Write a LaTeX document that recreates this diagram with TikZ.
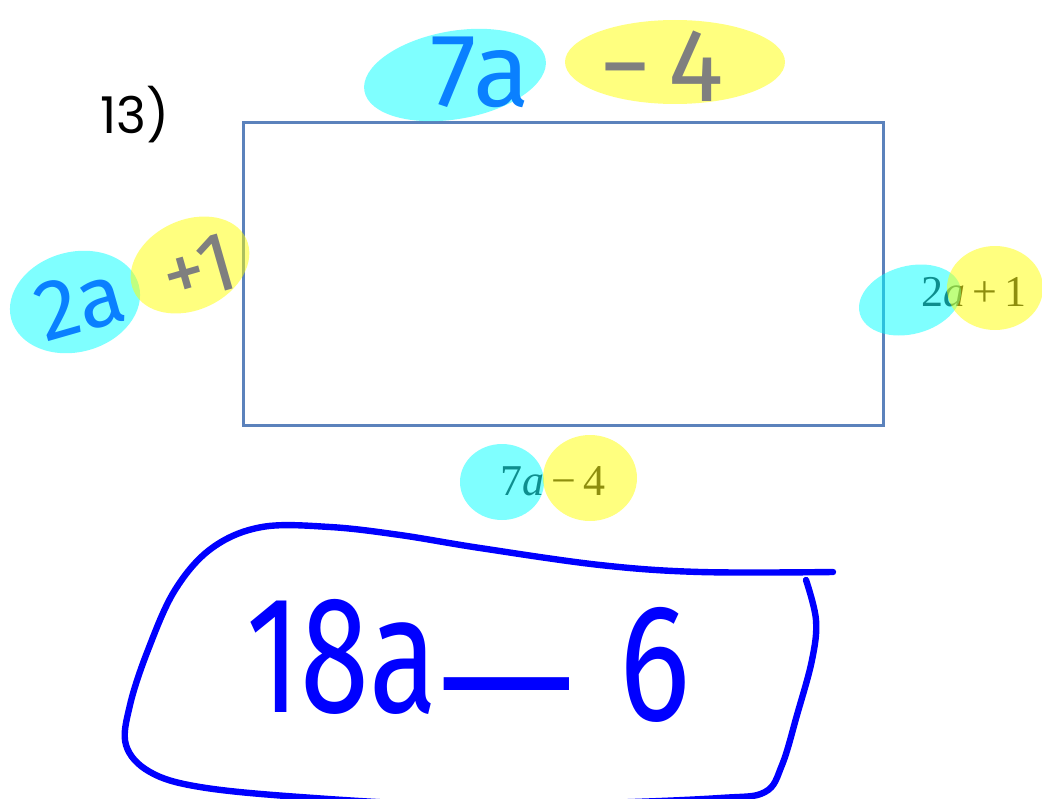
\documentclass[tikz,border=0pt]{standalone}
\usepackage{fontspec}
\usepackage{xcolor}
\usepackage{tikz}
\usetikzlibrary{positioning}
\setmainfont{Poppins}
\newfontfamily\handfont{Fira Sans}
\newfontfamily\printfont{Liberation Serif}
\definecolor{rectblue}{HTML}{5B82BC}
\definecolor{penblue}{HTML}{0A80FF}
\definecolor{inkblue}{HTML}{0000FF}
\definecolor{pengray}{HTML}{7F7F7F}
\definecolor{printgray}{HTML}{1E1E1E}
\definecolor{hlcyan}{HTML}{00FFFF}
\definecolor{hlyellow}{HTML}{FFFF00}

\begin{document}
\begin{tikzpicture}[
    x=0.75pt, y=-0.75pt,
    hilite/.style={fill=#1, fill opacity=0.5},
    handlbl/.style={inner sep=0pt, font=\handfont\fontsize{78}{78}\selectfont},
    printlbl/.style={inner sep=0pt, text=printgray,
        font=\printfont\fontsize{33}{33}\selectfont},
    answer/.style={inner sep=0pt, text=inkblue,
        font=\handfont\fontsize{125}{125}\selectfont},
    loopline/.style={draw=inkblue, line width=4.8pt,
        line cap=round, line join=round}
]
\useasboundingbox (0,0) rectangle (1042,799);

\node[font=\fontsize{38}{38}\selectfont] (num) at (135,115) {13)};
\node[draw=rectblue, line width=2.25pt, minimum width=480pt,
    minimum height=227.25pt] (box) at (563,273.5) {};

% printed side labels, under the marker
\node[printlbl] (rlbl) at (974,292) {2\textit{a}\,+\,1};
\node[printlbl] (blbl) at (553,481) {7\textit{a}\,−\,4};

% marker blobs
\fill[hilite=hlcyan, rotate around={10:(455,75)}] (455,75) ellipse [x radius=92, y radius=44];
\fill[hilite=hlyellow] (675,62) ellipse [x radius=110, y radius=42];
\fill[hilite=hlcyan, rotate around={15:(75,302)}] (75,302) ellipse [x radius=66, y radius=50];
\fill[hilite=hlyellow, rotate around={25:(190,265)}] (190,265) ellipse [x radius=62, y radius=45];
\fill[hilite=hlcyan, rotate around={15:(910,300)}] (910,300) ellipse [x radius=52, y radius=34];
\fill[hilite=hlyellow] (995,288) ellipse [x radius=48, y radius=42];
\fill[hilite=hlcyan] (502,482) ellipse [x radius=42, y radius=38];
\fill[hilite=hlyellow] (590,478) ellipse [x radius=47, y radius=43];

% hand written labels
\node[handlbl, text=penblue] (top1) at (480,72) {7a};
\node[handlbl, text=pengray] (top2) at (662,66) {−\,4};
\node[handlbl, rotate=16,
    font=\handfont\fontsize{64}{64}\selectfont] (left) at (136,287)
    {\textcolor{penblue}{2a}\enspace\textcolor{pengray}{+1}};

% answer
\node[answer, xscale=0.75] (ans1) at (342,657) {18a};
\node[answer, xscale=2] (ans2) at (507,709) {−};
\node[answer, xscale=0.8] (ans3) at (655,665) {6};
\draw[loopline] plot[smooth, tension=0.6] coordinates {
    (833,572) (700,572) (600,565) (480,548) (400,535) (330,527)
    (262,527) (212,548) (175,590) (148,650) (130,705) (126,745)
    (150,772) (200,787) (300,797) (450,805) (600,803) (720,798)
    (765,792) (782,765) (797,715) (812,660) (816,620) (806,580)};
\end{tikzpicture}
\end{document}
